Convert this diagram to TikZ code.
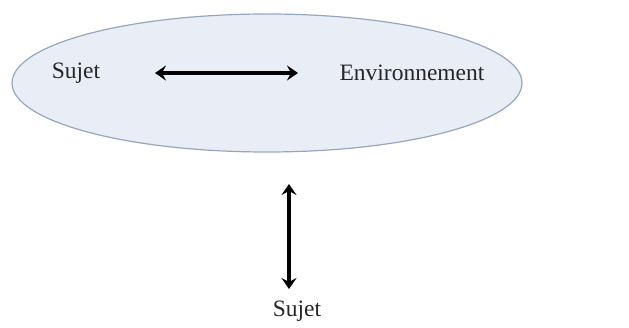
\documentclass[tikz,border=0pt]{standalone}
\usepackage{fontspec}
\setmainfont{Liberation Serif}
\usetikzlibrary{arrows.meta,shapes.geometric}
\definecolor{ellfill}{HTML}{E9EEF6}
\definecolor{elldraw}{HTML}{95A6BE}
\tikzset{
  lbl/.style={font=\fontsize{23.5}{27}\selectfont, text=black!85, inner sep=0pt},
  dblarrow/.style={line width=3.2pt, {Stealth[length=11pt,width=15pt,inset=4pt]}-{Stealth[length=11pt,width=15pt,inset=4pt]}}
}
\begin{document}
\begin{tikzpicture}[x=1pt,y=-1pt]
\useasboundingbox (0,0) rectangle (629,328);
\node[ellipse, draw=elldraw, line width=1.2pt, fill=ellfill, minimum width=510pt, minimum height=138pt, inner sep=0pt] (ell) at (267,83) {};
\node[lbl] (s1) at (76,73) {Sujet};
\node[lbl] (env) at (412,73) {Environnement};
\coordinate (ha) at (155,73);
\coordinate (hb) at (298,73);
\draw[dblarrow] (ha) -- (hb);
\coordinate (va) at (289,184);
\coordinate (vb) at (289,289);
\draw[dblarrow] (va) -- (vb);
\node[lbl] (s2) at (297,311) {Sujet};
\end{tikzpicture}
\end{document}
